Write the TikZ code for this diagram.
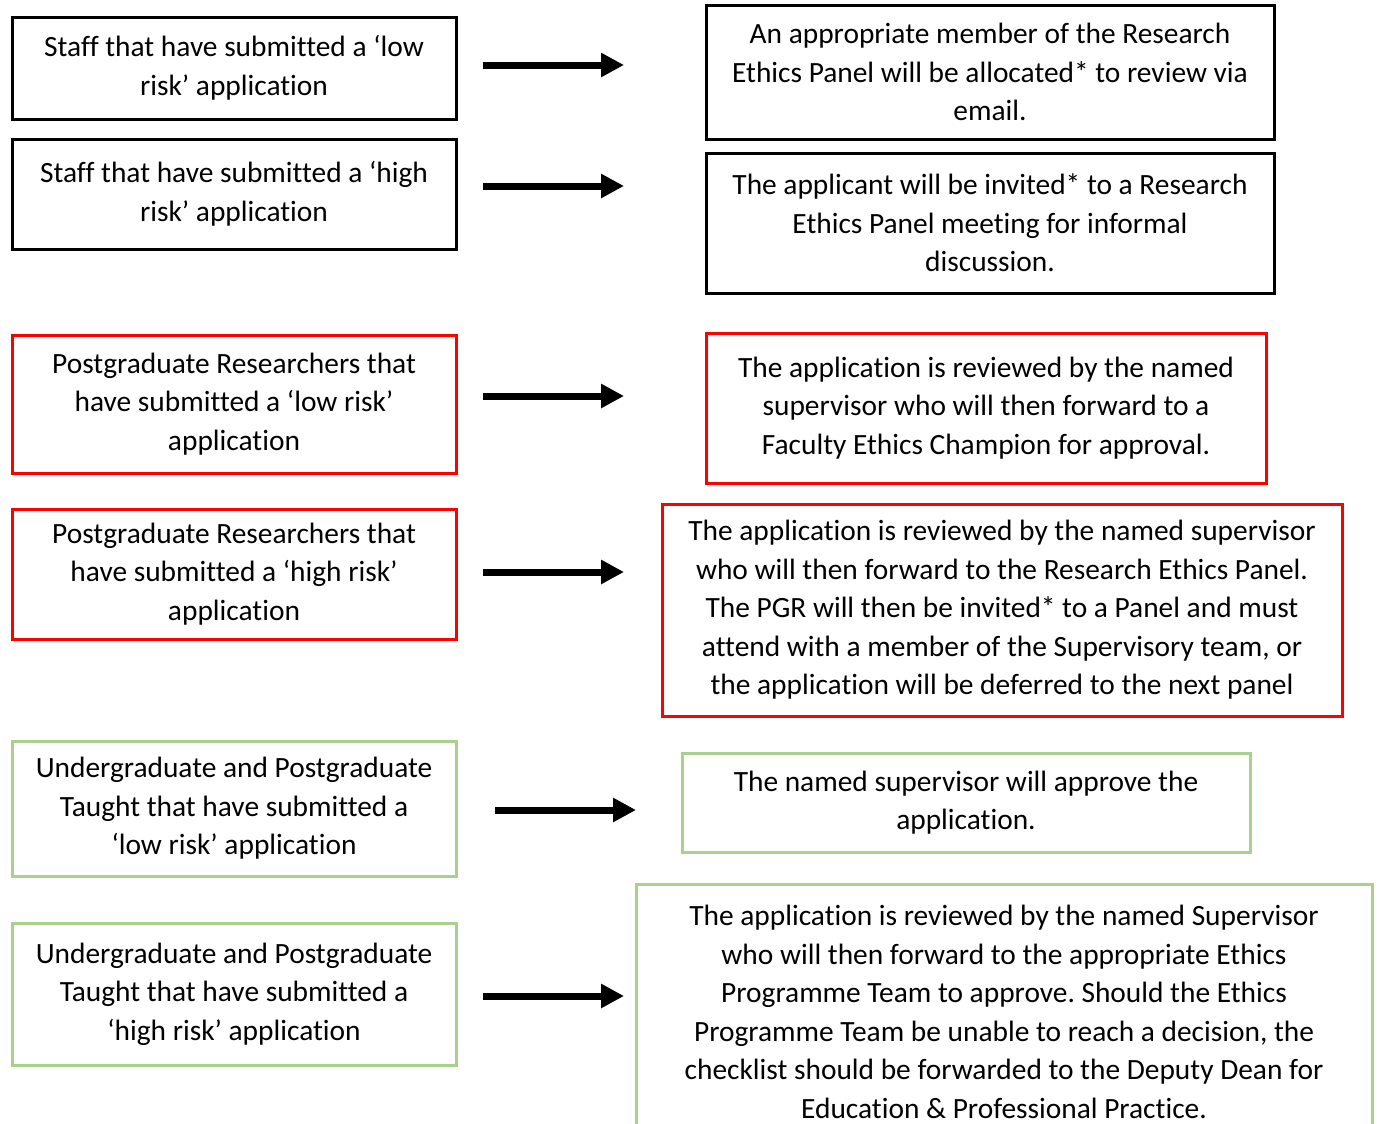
\documentclass[tikz,border=0pt]{standalone}
\usepackage{fontspec}
\setmainfont{Carlito}[Ligatures=NoCommon]
\usetikzlibrary{arrows.meta}
\definecolor{boxgreen}{HTML}{A9D08E}
\frenchspacing
\tikzset{
  box/.style={draw,line width=1.5pt,inner sep=0pt,align=center,
    font=\fontsize{14.7}{19.25}\selectfont},
  staff/.style={box,draw=black},
  pgr/.style={box,draw=red},
  taught/.style={box,draw=boxgreen},
  arr/.style={-{Triangle[length=11.5pt,width=11.5pt]},line width=3.5pt}
}
\begin{document}
\begin{tikzpicture}[x=0.5pt,y=-0.5pt]
  \useasboundingbox (0,0) rectangle (1378,1124);
  % left column
  \node[staff,minimum width=222pt,minimum height=51pt] (l1) at (234,68)
    {Staff that have submitted a ‘low\\risk’ application};
  \node[staff,minimum width=222pt,minimum height=55pt] (l2) at (234,194)
    {Staff that have submitted a ‘high\\risk’ application};
  \node[pgr,minimum width=222pt,minimum height=69pt] (l3) at (234,404)
    {Postgraduate Researchers that\\have submitted a ‘low risk’\\application};
  \node[pgr,minimum width=222pt,minimum height=65pt] (l4) at (234,574)
    {Postgraduate Researchers that\\have submitted a ‘high risk’\\application};
  \node[taught,minimum width=222pt,minimum height=67.5pt] (l5) at (234,808.5)
    {Undergraduate and Postgraduate\\Taught that have submitted a\\‘low risk’ application};
  \node[taught,minimum width=222pt,minimum height=71pt] (l6) at (234,994)
    {Undergraduate and Postgraduate\\Taught that have submitted a\\‘high risk’ application};
  % right column
  \node[staff,minimum width=284pt,minimum height=67pt] (r1) at (990,72)
    {An appropriate member of the Research\\Ethics Panel will be allocated* to review via\\email.};
  \node[staff,minimum width=284pt,minimum height=70pt] (r2) at (990,223)
    {The applicant will be invited* to a Research\\Ethics Panel meeting for informal\\discussion.};
  \node[pgr,minimum width=280pt,minimum height=75pt] (r3) at (986,408)
    {The application is reviewed by the named\\supervisor who will then forward to a\\Faculty Ethics Champion for approval.};
  \node[pgr,minimum width=340pt,minimum height=106pt] (r4) at (1002,610)
    {The application is reviewed by the named supervisor\\who will then forward to the Research Ethics Panel.\\The PGR will then be invited* to a Panel and must\\attend with a member of the Supervisory team, or\\the application will be deferred to the next panel};
  \node[taught,minimum width=284pt,minimum height=49.5pt] (r5) at (966,802.5)
    {The named supervisor will approve the\\application.};
  \node[taught,minimum width=368pt,minimum height=128pt] (r6) at (1004,1012)
    {The application is reviewed by the named Supervisor\\who will then forward to the appropriate Ethics\\Programme Team to approve. Should the Ethics\\Programme Team be unable to reach a decision, the\\checklist should be forwarded to the Deputy Dean for\\Education \& Professional Practice.};
  % arrows
  \coordinate (a1) at (483,65);  \coordinate (b1) at (624,65);
  \coordinate (a2) at (483,186); \coordinate (b2) at (624,186);
  \coordinate (a3) at (483,396); \coordinate (b3) at (624,396);
  \coordinate (a4) at (483,572); \coordinate (b4) at (624,572);
  \coordinate (a5) at (495,810); \coordinate (b5) at (636,810);
  \coordinate (a6) at (483,996); \coordinate (b6) at (624,996);
  \foreach \i in {1,...,6}
    \draw[arr] (a\i) -- (b\i);
\end{tikzpicture}
\end{document}
